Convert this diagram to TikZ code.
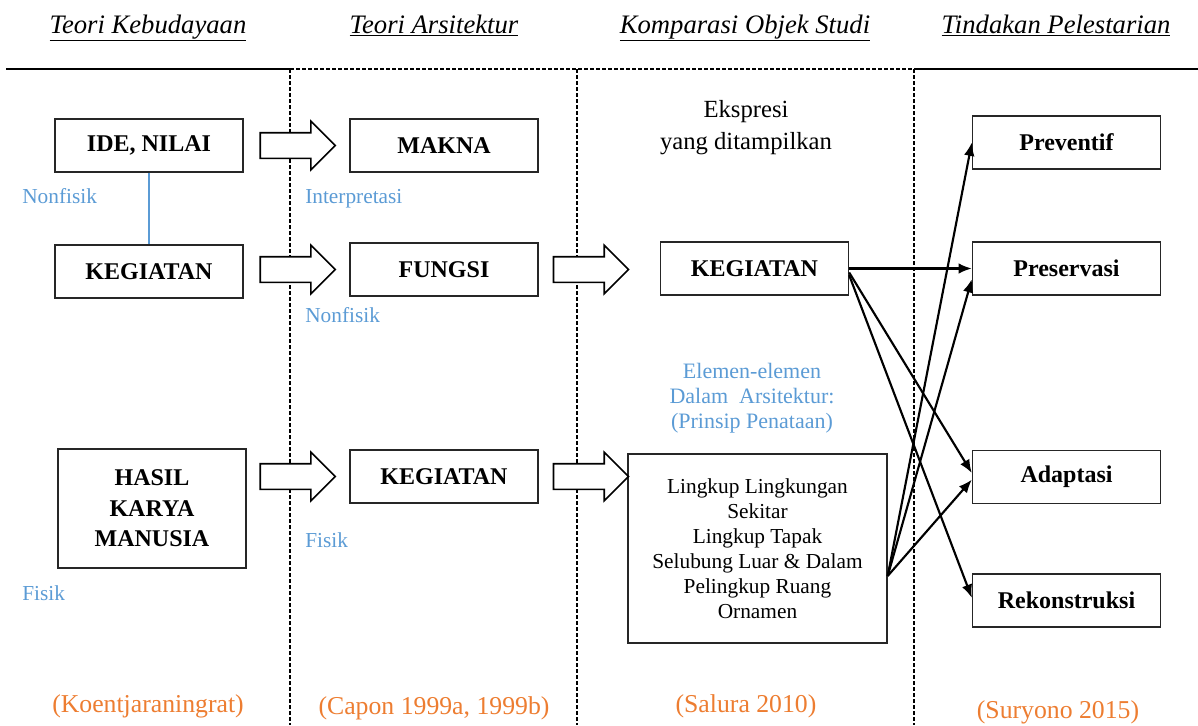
\documentclass[tikz,border=0pt]{standalone}
\usepackage{fontspec}
\setmainfont{Liberation Serif}
\usepackage{tikz}
\usetikzlibrary{arrows.meta,positioning,calc,shapes.arrows}
\usepackage{xcolor}
\definecolor{ink}{HTML}{000000}
\definecolor{frame}{HTML}{262626}
\definecolor{note}{HTML}{5B9BD5}
\definecolor{cite}{HTML}{ED7D31}
\tikzset{
  >={Latex[length=10pt,width=8pt]},
  every node/.style={text=ink,inner sep=0pt},
  box/.style={draw=frame,line width=1pt,fill=white,minimum width=141pt,minimum height=39.75pt,align=center,font=\fontsize{18}{22.9}\selectfont\bfseries},
  listbox/.style={draw=frame,line width=1pt,fill=white,minimum width=194.25pt,minimum height=141.75pt,align=center,font=\fontsize{16}{18.75}\selectfont},
  blockarr/.style={single arrow,draw=ink,line width=1.2pt,fill=white,minimum height=56.25pt,inner xsep=0pt,inner ysep=9pt,single arrow head extend=8.6pt,single arrow tip angle=90},
  arrow/.style={->,line width=1.6pt,draw=ink},
  tag/.style={text=note,font=\fontsize{16}{19}\selectfont},
  blurb/.style={align=center,font=\fontsize{18.5}{24}\selectfont},
  cite/.style={text=cite,font=\fontsize{19.3}{22}\selectfont},
  colhead/.style={font=\fontsize{20}{22}\selectfont\itshape},
  divider/.style={line width=1pt,dash pattern=on 3pt off 1.5pt},
}

\begin{document}
\begin{tikzpicture}[x=0.75pt,y=-0.75pt]
\useasboundingbox (0,0) rectangle (1198,725);

% column heads
\node[colhead,anchor=base] (h1) at (148,33) {\underline{Teori Kebudayaan}};
\node[colhead,anchor=base] (h2) at (434,33) {\underline{Teori Arsitektur}};
\node[colhead,anchor=base] (h3) at (745,33) {\underline{Komparasi Objek Studi}};
\node[colhead,anchor=base] (h4) at (1056,33) {\underline{Tindakan Pelestarian}};

% frame lines
\coordinate (c1) at (290,69);
\coordinate (c2) at (577,69);
\coordinate (c3) at (914,69);
\draw[line width=1.5pt] (6,69) -- (c1);
\draw[line width=1.5pt] (c3) -- (1198,69);
\draw[divider] (c1) -- (c3);
\foreach \c in {c1,c2,c3}
  \draw[divider] (\c) -- (\c |- 0,725);

% teori kebudayaan
\node[box] (ide) at (149,145.5) {IDE, NILAI};
\node[box] (keg1) at (149,271.5) {KEGIATAN};
\node[box,minimum height=89.25pt] (hasil) at (152,508.5) {HASIL\\KARYA\\MANUSIA};
\draw[note,line width=1pt] (ide.south) -- (keg1.north);
\node[tag,anchor=base west] (nf1) at (22,203) {Nonfisik};
\node[tag,anchor=base west] (fs1) at (22,600) {Fisik};

% teori arsitektur
\node[box] (makna) at (444,145.5) {MAKNA};
\node[box] (fungsi) at (444,269.5) {FUNGSI};
\node[box] (keg2) at (444,476.5) {KEGIATAN};
\node[tag,anchor=base west] (intp) at (305,203) {Interpretasi};
\node[tag,anchor=base west] (nf2) at (305,322) {Nonfisik};
\node[tag,anchor=base west] (fs2) at (305,547) {Fisik};

% komparasi objek studi
\node[blurb] (ekspr) at (746,128) {Ekspresi\\yang ditampilkan};
\node[box] (keg3) at (754.5,268.5) {KEGIATAN};
\node[blurb,text=note,font=\fontsize{16.5}{18.75}\selectfont] (elem) at (752,398)
  {Elemen-elemen\\Dalam~~Arsitektur:\\(Prinsip Penataan)};
\node[listbox] (lingkup) at (757.5,548.5)
  {Lingkup Lingkungan\\Sekitar\\Lingkup Tapak\\Selubung Luar \& Dalam\\Pelingkup Ruang\\Ornamen};

% tindakan pelestarian
\node[box] (prev) at (1066.5,142.5) {Preventif};
\node[box] (pres) at (1066.5,268.5) {Preservasi};
\node[box] (adap) at (1066.5,477) {Adaptasi};
\node[box] (rek) at (1066.5,600.5) {Rekonstruksi};

% block arrows
\node[blockarr,anchor=tip] (a1) at ([xshift=-9.75pt]makna.west) {};
\node[blockarr,anchor=tip] (a2) at ([xshift=-9.75pt]fungsi.west) {};
\node[blockarr,anchor=tip] (a3) at ([xshift=-9.75pt]keg2.west) {};
\node[blockarr,anchor=tail] (a4) at ([xshift=10.5pt]fungsi.east) {};
\node[blockarr,anchor=tail] (a5) at ([xshift=10.5pt]keg2.east) {};

% links to actions
\draw[arrow] (keg3.east) -- (pres.west);
\draw[arrow] ([yshift=-3pt]keg3.east) -- ([yshift=3pt]adap.west);
\draw[arrow] ([yshift=-5pt]keg3.east) -- ([yshift=2pt]rek.west);
\draw[arrow] ([yshift=-20.6pt]lingkup.east) -- (prev.west);
\draw[arrow] ([yshift=-20.6pt]lingkup.east) -- ([yshift=-8pt]pres.west);
\draw[arrow] ([yshift=-20.6pt]lingkup.east) -- ([yshift=-2pt]adap.west);

% sources
\node[cite,anchor=base] (src1) at (148,712) {(Koentjaraningrat)};
\node[cite,anchor=base] (src2) at (434,714) {(Capon 1999a, 1999b)};
\node[cite,anchor=base] (src3) at (746,712) {(Salura 2010)};
\node[cite,anchor=base] (src4) at (1058,718) {(Suryono 2015)};

\end{tikzpicture}
\end{document}
